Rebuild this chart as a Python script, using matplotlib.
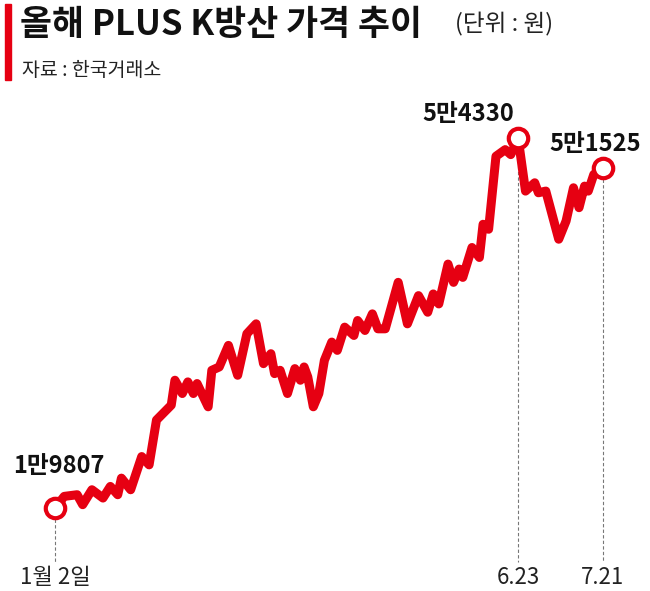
import matplotlib
matplotlib.use("Agg")
import matplotlib.pyplot as plt
from matplotlib.patches import Rectangle

plt.rcParams['font.family'] = ['Noto Sans CJK KR', 'DejaVu Sans']

# (zoom-x, price in won)
zx = [35,60,95,110,135,165,185,205,215,240,270,290,310,350,360,380,395,410,420,450,460,480,505,530,555,580,600,620,630,645,665,685,700,710,720,735,750,765,785,800,820,845,855,875,895,910,930,965,990,1020,1045,1060,1075,1100,1115,1130,1140,1165,1185,1195,1210,1230,1255,1270,1290,1310,1335,1345,1365,1400,1420,1440,1455,1470,1480,1495,1520]
zy = [1165,1130,1125,1155,1110,1135,1100,1125,1075,1110,1010,1035,900,855,780,820,785,820,790,860,750,740,675,765,640,610,730,700,760,750,820,745,780,740,770,860,820,720,665,690,620,645,600,630,580,625,625,485,610,525,575,520,550,430,485,445,470,380,410,310,325,105,85,100,50,210,185,215,210,355,300,200,260,195,210,160,140]
days = [(x - 35) / (1520 - 35) * 134 for x in zx]
prices = [19807 + (1165 - y) * (54330 - 19807) / (1165 - 50) for y in zy]
prices[0] = 19807; prices[-1] = 51525
peak_i = zy.index(50); prices[peak_i] = 54330

xlabels = ["1월 2일", "6.23", "7.21"]
vlabels = ["1만9807", "5만4330", "5만1525"]
red = "#e60012"

fig = plt.figure(figsize=(6.5, 5.91), dpi=100)
ax = fig.add_axes([55/650, (591-508)/591, 548/650, 370/591])
ax.set_xlim(0, 134); ax.set_ylim(19807, 54330)
ax.axis('off')
upp = (54330 - 19807) / 370
ybot = 19807 - 54 * upp
ytick = 19807 - 70 * upp
marks = [0, peak_i, len(days) - 1]
for k, i in enumerate(marks):
    ax.plot([days[i], days[i]], [prices[i], ybot], ls=(0, (3, 2)), color='#777777', lw=0.8, clip_on=False, zorder=1)
    ax.text(days[i], ytick, xlabels[k], ha='center', va='center', fontsize=16, color='#222222', clip_on=False)
ax.plot(days, prices, color=red, lw=6.5, solid_joinstyle='round', solid_capstyle='round', clip_on=False, zorder=2)
ax.plot([days[i] for i in marks], [prices[i] for i in marks], 'o', ms=14, mfc='white', mec=red, mew=3, clip_on=False, zorder=3)
off = 30 * upp
ax.text(days[0] + 1, prices[0] + off, vlabels[0], ha='center', va='bottom', fontsize=17, fontweight='bold', color='#111111', clip_on=False)
ax.text(days[peak_i] - 1, prices[peak_i] + 12*upp, vlabels[1], ha='right', va='bottom', fontsize=17, fontweight='bold', color='#111111', clip_on=False)
ax.text(days[-1] - 2, prices[-1] + 12*upp, vlabels[2], ha='center', va='bottom', fontsize=17, fontweight='bold', color='#111111', clip_on=False)

fig.patches.append(Rectangle((5/650, 1 - 80/591), 6/650, 76/591, transform=fig.transFigure, color=red))
fig.text(20/650, 1 - 24/591, "올해 PLUS K방산 가격 추이", fontsize=25, fontweight='bold', va='center', color='#111111')
fig.text(455/650, 1 - 24/591, "(단위 : 원)", fontsize=17, va='center', color='#222222')
fig.text(22/650, 1 - 70/591, "자료 : 한국거래소", fontsize=14, va='center', color='#222222')
fig.savefig("out.png", dpi=100)
